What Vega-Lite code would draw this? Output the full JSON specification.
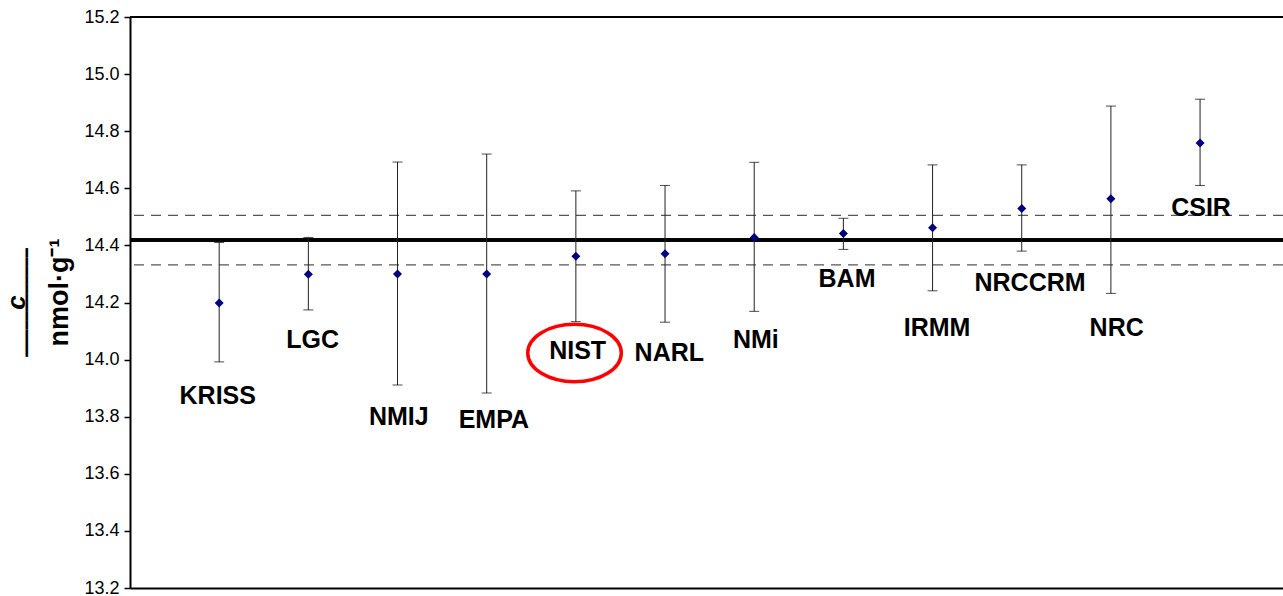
{
  "$schema": "https://vega.github.io/schema/vega-lite/v6.json",
  "autosize": {"type": "none"},
  "padding": {"left": 130, "top": 17, "right": 0, "bottom": 8},
  "width": 1153,
  "height": 571,
  "background": "white",
  "config": {"view": {"stroke": null}},
  "title": {
    "text": "c\u00a0\u00a0\u00a0",
    "subtitle": "\u00a0\u00a0\u00a0\u00a0━━━━━━━━━━━━",
    "orient": "left",
    "anchor": "middle",
    "font": "Liberation Sans",
    "fontSize": 26,
    "fontWeight": "bold",
    "fontStyle": "italic",
    "color": "black",
    "subtitleFont": "DejaVu Sans",
    "subtitleFontSize": 15,
    "subtitleColor": "black",
    "subtitlePadding": -10,
    "offset": 10
  },
  "data": {
    "values": [
      {"lab": "KRISS", "x": 1, "c": 14.198, "lo": 13.992, "hi": 14.41, "lx": 0.984, "ly": 13.872, "circled": false},
      {"lab": "LGC", "x": 2, "c": 14.299, "lo": 14.174, "hi": 14.428, "lx": 2.049, "ly": 14.068, "circled": false},
      {"lab": "NMIJ", "x": 3, "c": 14.3, "lo": 13.911, "hi": 14.692, "lx": 3.014, "ly": 13.799, "circled": false},
      {"lab": "EMPA", "x": 4, "c": 14.3, "lo": 13.883, "hi": 14.72, "lx": 4.08, "ly": 13.788, "circled": false},
      {"lab": "NIST", "x": 5, "c": 14.362, "lo": 14.133, "hi": 14.591, "lx": 5.02, "ly": 14.03, "circled": true},
      {"lab": "NARL", "x": 6, "c": 14.371, "lo": 14.131, "hi": 14.61, "lx": 6.048, "ly": 14.024, "circled": false},
      {"lab": "NMi", "x": 7, "c": 14.428, "lo": 14.169, "hi": 14.691, "lx": 7.018, "ly": 14.069, "circled": false},
      {"lab": "BAM", "x": 8, "c": 14.442, "lo": 14.386, "hi": 14.495, "lx": 8.041, "ly": 14.283, "circled": false},
      {"lab": "IRMM", "x": 9, "c": 14.462, "lo": 14.241, "hi": 14.682, "lx": 9.05, "ly": 14.111, "circled": false},
      {"lab": "NRCCRM", "x": 10, "c": 14.529, "lo": 14.38, "hi": 14.682, "lx": 10.093, "ly": 14.269, "circled": false},
      {"lab": "NRC", "x": 11, "c": 14.563, "lo": 14.232, "hi": 14.888, "lx": 11.065, "ly": 14.111, "circled": false},
      {"lab": "CSIR", "x": 12, "c": 14.759, "lo": 14.61, "hi": 14.912, "lx": 12.011, "ly": 14.53, "circled": false}
    ]
  },
  "encoding": {
    "x": {
      "field": "x", "type": "quantitative",
      "scale": {"domain": [0, 12.93], "nice": false, "zero": false},
      "axis": {"title": null, "labels": false, "ticks": false, "grid": false, "domain": true, "domainColor": "black", "domainWidth": 2}
    }
  },
  "layer": [
    {
      "mark": {"type": "rule", "color": "black", "strokeWidth": 2},
      "encoding": {"x": null, "y": {"datum": 15.2, "type": "quantitative", "scale": {"domain": [13.2, 15.2], "nice": false, "zero": false},
        "axis": {
          "title": "nmol·g⁻¹",
          "titleFont": "Liberation Sans", "titleFontSize": 27, "titleFontWeight": "bold", "titleColor": "black",
          "titleAngle": -90, "titleAlign": "center", "titleBaseline": "alphabetic",
          "titleX": -63, "titleY": 275,
          "values": [13.2, 13.4, 13.6, 13.8, 14.0, 14.2, 14.4, 14.6, 14.8, 15.0, 15.2],
          "format": ".1f",
          "grid": false,
          "domainColor": "black", "domainWidth": 2,
          "tickColor": "black", "tickSize": 6, "tickWidth": 1.5,
          "labelFont": "Liberation Sans", "labelFontSize": 18, "labelColor": "black", "labelPadding": 5
        }}}
    },
    {
      "mark": {"type": "rule", "color": "black", "strokeWidth": 2.5},
      "encoding": {"x": null, "y": {"datum": 14.419, "type": "quantitative"}}
    },
    {
      "data": {"values": [{"v": 14.505}, {"v": 14.332}]},
      "mark": {"type": "rule", "color": "#555555", "strokeWidth": 1.3, "strokeDash": [10, 7]},
      "encoding": {"x": null, "y": {"field": "v", "type": "quantitative"}}
    },
    {
      "mark": {"type": "rule", "color": "#222222", "strokeWidth": 1},
      "encoding": {"y": {"field": "lo", "type": "quantitative"}, "y2": {"field": "hi"}}
    },
    {
      "mark": {"type": "tick", "orient": "horizontal", "color": "black", "size": 10, "thickness": 1},
      "encoding": {"y": {"field": "lo", "type": "quantitative"}}
    },
    {
      "mark": {"type": "tick", "orient": "horizontal", "color": "black", "size": 10, "thickness": 1},
      "encoding": {"y": {"field": "hi", "type": "quantitative"}}
    },
    {
      "mark": {"type": "point", "shape": "diamond", "filled": true, "color": "#000080", "size": 81, "opacity": 1},
      "encoding": {"y": {"field": "c", "type": "quantitative"}}
    },
    {
      "mark": {"type": "text", "font": "Liberation Sans", "fontSize": 25, "fontWeight": "bold", "color": "black", "align": "center", "baseline": "middle"},
      "encoding": {
        "x": {"field": "lx", "type": "quantitative"},
        "y": {"field": "ly", "type": "quantitative"},
        "text": {"field": "lab"}
      }
    },
    {
      "transform": [{"filter": "datum.circled"}],
      "mark": {"type": "point", "shape": "M-1.63,0A1.63,1,0,1,0,1.63,0A1.63,1,0,1,0,-1.63,0Z", "filled": false, "stroke": "#ff0000", "strokeWidth": 3.5, "size": 3295, "opacity": 1},
      "encoding": {
        "x": {"datum": 4.985, "type": "quantitative"},
        "y": {"datum": 14.023, "type": "quantitative"}
      }
    }
  ]
}
